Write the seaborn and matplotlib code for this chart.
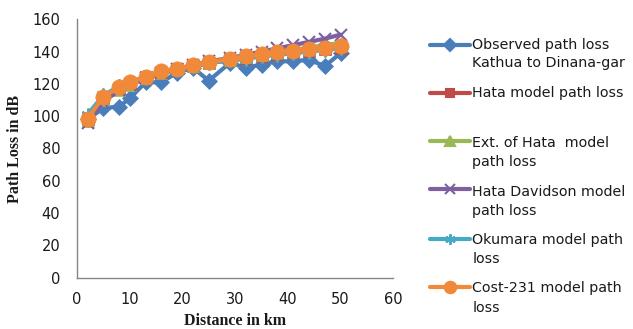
import matplotlib
matplotlib.use("Agg")
import matplotlib.pyplot as plt
from matplotlib.lines import Line2D
import seaborn as sns
import pandas as pd

distance_km = [2, 5, 8, 10, 13, 16, 19, 22, 25, 29, 32, 35, 38, 41, 44, 47, 50]
observed = [98, 105, 106, 111, 121, 121, 127, 130, 122, 133, 130, 132, 134, 134, 135, 131, 139]
hata = [98, 111, 117, 120, 124, 127, 129, 131, 133, 134.5, 136, 137.5, 138.5, 139.5, 140.5, 141.5, 142.5]
ext_hata = [97, 110, 116, 119.5, 123.5, 126.5, 129, 131, 133, 135, 136.5, 138, 139.5, 141, 142.5, 144, 145.5]
hata_davidson = [96, 109, 116, 119.5, 123.5, 127, 129.5, 131.5, 134, 136, 138, 140, 142, 144, 146, 148, 150.5]
okumara = [101, 113, 118.5, 121, 124.5, 127.5, 129.5, 131, 133, 134.5, 135.5, 137, 138, 139, 140, 141, 142]
cost231 = [98.5, 112, 118, 121, 124.5, 128, 129.5, 131.5, 133.5, 135.5, 137, 138.5, 139.5, 140.5, 141.5, 142.5, 143.5]

legend_labels = [
    ["Observed path loss", "Kathua to Dinana-gar"],
    ["Hata model path loss"],
    ["Ext. of Hata  model", "path loss"],
    ["Hata Davidson model", "path loss"],
    ["Okumara model path", "loss"],
    ["Cost-231 model path", "loss"],
]
x_ticks = [0, 10, 20, 30, 40, 50, 60]
y_ticks = [0, 20, 40, 60, 80, 100, 120, 140, 160]

series = [observed, hata, ext_hata, hata_davidson, okumara, cost231]
colors = ["#4A7EBB", "#BE4B48", "#98B954", "#7D60A0", "#46AAC5", "#F08A3A"]
markers = ["D", "s", "^", "x", (6, 2, 0), "o"]
msizes = [8.5, 8, 9, 9, 10, 11]

sns.set_style("white")
fig = plt.figure(figsize=(6.33, 3.29), dpi=100)
ax = fig.add_axes([77 / 633, 1 - 277.7 / 329, (393.3 - 77) / 633, (277.7 - 19.3) / 329])

for i, (vals, c, m, ms) in enumerate(zip(series, colors, markers, msizes)):
    df = pd.DataFrame({"x": distance_km, "y": vals})
    sns.lineplot(data=df, x="x", y="y", ax=ax, color=c, marker=m, markersize=ms,
                 markeredgecolor=c, markeredgewidth=1.5 if m in ("x",) or isinstance(m, tuple) else 0.5,
                 linewidth=3, zorder=2 + i, sort=False)

ax.set_xlim(0, 60)
ax.set_ylim(0, 160)
ax.set_xticks(x_ticks)
ax.set_yticks(y_ticks)
ax.set_xticklabels([str(t) for t in x_ticks], fontsize=10.5, color="#1a1a1a", family="DejaVu Sans")
ax.set_yticklabels([str(t) for t in y_ticks], fontsize=10.5, color="#1a1a1a", family="DejaVu Sans")
ax.tick_params(axis="both", direction="out", length=5, width=1, color="#868686")
ax.tick_params(axis="y", pad=7)
ax.tick_params(axis="x", pad=5)
for s in ["top", "right"]:
    ax.spines[s].set_visible(False)
for s in ["left", "bottom"]:
    ax.spines[s].set_color("#868686")
    ax.spines[s].set_linewidth(1)
ax.grid(False)

ax.set_xlabel("Distance in km", fontsize=11.5, fontweight="bold", family="Liberation Serif", color="#1a1a1a")
ax.set_ylabel("Path Loss in dB", fontsize=11.5, fontweight="bold", family="Liberation Serif", color="#1a1a1a")
ax.xaxis.set_label_coords(0.5, -0.135)
ax.yaxis.set_label_coords(-0.17, 0.5)

# manual legend (figure pixel coords)
W, H = 633, 329
line1_y = [45, 92.7, 142.7, 191.7, 240, 288.3]
line2_y = [63.3, None, 161.7, 211, 259.3, 308.3]
handle_y = [45, 92.7, 141, 189, 239, 287]
for i, (labs, c, m, ms) in enumerate(zip(legend_labels, colors, markers, msizes)):
    hy = 1 - handle_y[i] / H
    fig.add_artist(Line2D([430 / W, 470 / W], [hy, hy], color=c, linewidth=3, transform=fig.transFigure))
    fig.add_artist(Line2D([450 / W], [hy], color=c, marker=m, markersize=ms * 0.75,
                          markeredgecolor=c, markeredgewidth=1.5, linestyle="none",
                          transform=fig.transFigure))
    fig.text(472.5 / W, 1 - line1_y[i] / H, labs[0], fontsize=10.3, va="center", ha="left",
             color="#1a1a1a", family="DejaVu Sans")
    if len(labs) > 1:
        fig.text(472.5 / W, 1 - line2_y[i] / H, labs[1], fontsize=10.3, va="center", ha="left",
                 color="#1a1a1a", family="DejaVu Sans")

fig.savefig("out.png", dpi=100)
